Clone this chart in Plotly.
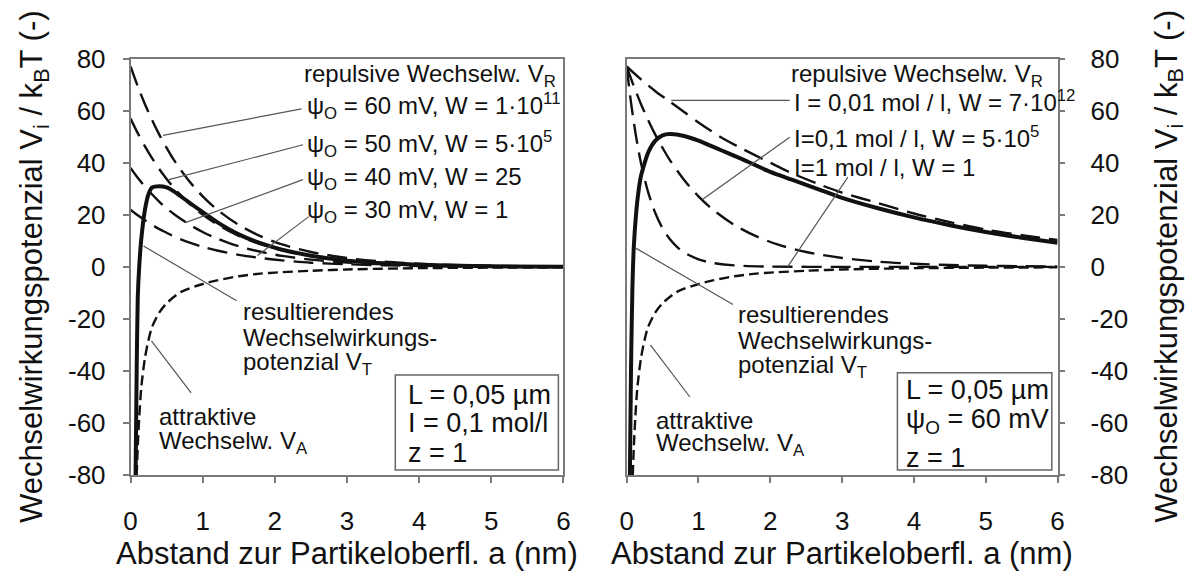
import plotly.graph_objects as go

# ---------------- data ----------------
# Left panel: I = 0.1 mol/l, repulsive curves for several surface potentials
xa_r = [0, 0.1, 0.2, 0.3, 0.4, 0.5, 0.6, 0.8, 1.0, 1.2, 1.5, 1.8, 2.1, 2.5, 3.0, 3.5, 4.0, 4.5, 5.0, 5.5, 6.0]
vr_60 = [77, 69.4, 62.5, 56.3, 50.7, 45.7, 41.1, 33.4, 27.1, 22.0, 16.1, 11.8, 8.6, 5.7, 3.4, 2.0, 1.2, 0.7, 0.4, 0.25, 0.15]
vr_50 = [57, 51.4, 46.3, 41.7, 37.5, 33.8, 30.4, 24.7, 20.1, 16.3, 11.9, 8.7, 6.4, 4.2, 2.5, 1.5, 0.9, 0.5, 0.3, 0.2, 0.1]
vr_40 = [38, 34.2, 30.8, 27.8, 25.0, 22.5, 20.3, 16.5, 13.4, 10.9, 7.9, 5.8, 4.2, 2.8, 1.7, 1.0, 0.6, 0.35, 0.2, 0.12, 0.07]
vr_30 = [22, 19.8, 17.9, 16.1, 14.5, 13.1, 11.7, 9.5, 7.7, 6.3, 4.6, 3.4, 2.5, 1.6, 1.0, 0.6, 0.34, 0.2, 0.12, 0.07, 0.04]

# attractive interaction (same in both panels)
x_att = [0.085, 0.1, 0.12, 0.15, 0.2, 0.25, 0.3, 0.4, 0.5, 0.7, 1.0, 1.2, 1.5, 1.8, 2.0, 2.5, 3.0, 4.0, 5.0, 6.0]
v_att = [-80, -69, -58, -46, -35, -28, -23, -17.5, -14, -9.6, -6.6, -5.2, -3.6, -2.6, -2.2, -1.5, -1.0, -0.5, -0.3, -0.2]

# resulting potential, left panel
x_tot_l = [0.07, 0.085, 0.1, 0.12, 0.15, 0.2, 0.25, 0.3, 0.4, 0.5, 0.6, 0.8, 1.0, 1.2, 1.5, 1.8, 2.1, 2.5, 3.0, 3.5, 4.0, 5.0, 6.0]
v_tot_l = [-80, -40, -12, 0, 11, 22, 28, 30.5, 31, 30.5, 29, 25, 21, 17.2, 12.5, 9.1, 6.6, 4.3, 2.4, 1.4, 0.8, 0.2, 0.0]

# Right panel: psi = 60 mV, repulsive curves for several ionic strengths
xb_r = [0, 0.2, 0.4, 0.6, 0.8, 1.0, 1.3, 1.6, 2.0, 2.3, 2.7, 3.0, 3.5, 4.0, 4.5, 5.0, 5.5, 6.0]
vr_i001 = [77, 72, 67.5, 63.5, 59.5, 55.5, 50, 45.5, 40, 36, 31.5, 28.5, 24.5, 20.5, 17.2, 14.3, 12.2, 10.3]
xb_r1 = [0, 0.05, 0.1, 0.15, 0.2, 0.3, 0.4, 0.5, 0.6, 0.7, 0.8, 1.0, 1.2, 1.5, 2.0, 3.0, 4.0, 5.0, 6.0]
vr_i1 = [77, 65.3, 55.5, 47, 39.8, 28.6, 20.6, 14.8, 10.7, 7.7, 5.5, 2.9, 1.5, 0.55, 0.1, 0, 0, 0, 0]
vr_i01 = vr_60

x_tot_r = [0.045, 0.06, 0.08, 0.1, 0.13, 0.16, 0.2, 0.3, 0.4, 0.5, 0.6, 0.8, 1.0, 1.3, 1.6, 2.0, 2.3, 2.7, 3.0, 3.5, 4.0, 4.5, 5.0, 5.5, 6.0]
v_tot_r = [-80, -40, -8, 8, 20, 28, 35, 44, 48.5, 50.5, 51, 50.3, 48.5, 45, 41.5, 36.5, 33.5, 29.5, 26.5, 22.5, 19, 16, 13.4, 11.2, 9.3]

x_ticks = [0, 1, 2, 3, 4, 5, 6]
y_ticks = [-80, -60, -40, -20, 0, 20, 40, 60, 80]
y_tick_text = ["-80", "-60", "-40", "-20", "0", "20", "40", "60", "80"]

# ---------------- style ----------------
FONT = "Liberation Sans, Arial, sans-serif"
BLACK = "#111111"
AXC = "#7a7a7a"
REP_DASH = "20px,9px"
ATT_DASH = "10px,5px"

fig = go.Figure()

def rep(x, y, xa, ya):
    fig.add_trace(go.Scatter(x=x, y=y, mode="lines", xaxis=xa, yaxis=ya,
                             line=dict(color=BLACK, width=2.4, dash=REP_DASH, shape="spline", smoothing=0.8),
                             showlegend=False, hoverinfo="skip"))

def att(xa, ya):
    fig.add_trace(go.Scatter(x=x_att, y=v_att, mode="lines", xaxis=xa, yaxis=ya,
                             line=dict(color=BLACK, width=2.4, dash=ATT_DASH, shape="spline", smoothing=0.8),
                             showlegend=False, hoverinfo="skip"))

def tot(x, y, xa, ya):
    fig.add_trace(go.Scatter(x=x, y=y, mode="lines", xaxis=xa, yaxis=ya,
                             line=dict(color=BLACK, width=4, shape="spline", smoothing=0.6),
                             showlegend=False, hoverinfo="skip"))

for v in (vr_60, vr_50, vr_40, vr_30):
    rep(xa_r, v, "x", "y")
att("x", "y")
tot(x_tot_l, v_tot_l, "x", "y")

rep(xb_r, vr_i001, "x2", "y2")
rep(xa_r, vr_i01, "x2", "y2")
rep(xb_r1, vr_i1, "x2", "y2")
att("x2", "y2")
tot(x_tot_r, v_tot_r, "x2", "y2")

W, H = 1197, 584
L_DOM = [125 / W, 563 / W]
R_DOM = [627 / W, 1063 / W]
Y_DOM = [(H - 485) / H, (H - 46) / H]

axis_common = dict(showline=True, linecolor=AXC, linewidth=1.5, mirror=True,
                   ticks="outside", ticklen=6, tickwidth=1.5, tickcolor=AXC,
                   showgrid=False, zeroline=False,
                   tickfont=dict(family=FONT, size=26, color=BLACK))

fig.update_layout(
    width=W, height=H,
    margin=dict(l=0, r=0, t=0, b=0),
    paper_bgcolor="white", plot_bgcolor="white",
    xaxis=dict(domain=L_DOM, range=[0, 6], tickvals=x_ticks, anchor="y", ticklabelstandoff=16, **axis_common),
    yaxis=dict(domain=Y_DOM, range=[-80, 80], tickvals=y_ticks, ticktext=y_tick_text, anchor="x",
               ticklabelstandoff=12, **axis_common),
    xaxis2=dict(domain=R_DOM, range=[0, 6], tickvals=x_ticks, anchor="y2", ticklabelstandoff=16, **axis_common),
    yaxis2=dict(domain=Y_DOM, range=[-80, 80], tickvals=y_ticks, ticktext=y_tick_text, anchor="x2",
                side="right", ticklabelstandoff=20, **axis_common),
)

ann = []
def txt(x, y, s, xr, yr, xanchor="left", size=24):
    ann.append(dict(x=x, y=y, xref=xr, yref=yr, text=s, showarrow=False,
                    xanchor=xanchor, yanchor="middle",
                    font=dict(family=FONT, size=size, color=BLACK)))

shapes = []
def ptr(x0, y0, x1, y1, xr, yr):
    shapes.append(dict(type="line", x0=x0, y0=y0, x1=x1, y1=y1, xref=xr, yref=yr,
                       line=dict(color="#555555", width=1.2)))

# left panel labels
txt(5.92, 73.5, "repulsive Wechselw. V<sub>R</sub>", "x", "y", xanchor="right")
txt(2.42, 61.8, "ψ<sub>O</sub> = 60 mV, W = 1·10<sup>11</sup>", "x", "y")
txt(2.42, 47.3, "ψ<sub>O</sub> = 50 mV, W = 5·10<sup>5</sup>", "x", "y")
txt(2.42, 33.8, "ψ<sub>O</sub> = 40 mV, W = 25", "x", "y")
txt(2.42, 21.1, "ψ<sub>O</sub> = 30 mV, W = 1", "x", "y")
ptr(2.37, 60.7, 0.45, 50.5, "x", "y")
ptr(2.39, 46.9, 0.53, 33.5, "x", "y")
ptr(2.39, 33.5, 0.76, 17, "x", "y")
ptr(2.47, 19.3, 1.76, 4.4, "x", "y")
txt(1.53, -17.1, "resultierendes", "x", "y")
txt(1.53, -27.3, "Wechselwirkungs-", "x", "y")
txt(1.53, -37.1, "potenzial V<sub>T</sub>", "x", "y")
ptr(0.18, 8, 1.47, -13, "x", "y")
txt(0.37, -57.5, "attraktive", "x", "y")
txt(0.37, -67.3, "Wechselw. V<sub>A</sub>", "x", "y")
ptr(0.29, -28.4, 0.84, -48.4, "x", "y")
shapes.append(dict(type="rect", x0=3.67, x1=5.93, y0=-78, y1=-41.5, xref="x", yref="y",
                   line=dict(color="#666666", width=1.5), fillcolor="white"))
txt(3.82, -49.1, "L = 0,05 µm", "x", "y", size=27)
txt(3.82, -60.0, "I = 0,1 mol/l", "x", "y", size=27)
txt(3.82, -71.6, "z = 1", "x", "y", size=27)

# right panel labels
txt(5.82, 73.5, "repulsive Wechselw. V<sub>R</sub>", "x2", "y2", xanchor="right")
txt(2.3, 63.6, "I = 0,01 mol / l, W = 7·10<sup>12</sup>", "x2", "y2")
txt(2.3, 49.8, "I=0,1 mol / l, W = 5·10<sup>5</sup>", "x2", "y2")
txt(2.3, 38.2, "I=1 mol / l, W = 1", "x2", "y2")
ptr(0.62, 64, 2.27, 64, "x2", "y2")
ptr(2.27, 49.8, 1.06, 26, "x2", "y2")
ptr(3.08, 34.5, 2.24, 0, "x2", "y2")
txt(1.52, -18.2, "resultierendes", "x2", "y2")
txt(1.52, -28.4, "Wechselwirkungs-", "x2", "y2")
txt(1.52, -38.2, "potenzial V<sub>T</sub>", "x2", "y2")
ptr(0.12, 7.3, 1.48, -14.5, "x2", "y2")
txt(0.38, -58.9, "attraktive", "x2", "y2")
txt(0.38, -68.4, "Wechselw. V<sub>A</sub>", "x2", "y2")
ptr(0.33, -30, 0.88, -50, "x2", "y2")
shapes.append(dict(type="rect", x0=3.77, x1=5.92, y0=-78, y1=-40.7, xref="x2", yref="y2",
                   line=dict(color="#666666", width=1.5), fillcolor="white"))
txt(3.86, -47.3, "L = 0,05 µm", "x2", "y2", size=27)
txt(3.86, -59.3, "ψ<sub>O</sub> = 60 mV", "x2", "y2", size=27)
txt(3.86, -73.5, "z = 1", "x2", "y2", size=27)

# axis titles
YT = "Wechselwirkungspotenzial V<sub>i</sub> / k<sub>B</sub>T (-)"
XT = "Abstand zur Partikeloberfl. a (nm)"
for xc in (28, 1176):
    ann.append(dict(x=xc / W, y=1 - 265 / H, xref="paper", yref="paper", text=YT, textangle=-90,
                    showarrow=False, xanchor="center", yanchor="middle",
                    font=dict(family=FONT, size=31, color=BLACK)))
for xc in (344, 845):
    ann.append(dict(x=xc / W, y=1 - 568 / H, xref="paper", yref="paper", text=XT,
                    showarrow=False, xanchor="center", yanchor="middle",
                    font=dict(family=FONT, size=31, color=BLACK)))

fig.update_layout(annotations=ann, shapes=shapes)
fig.write_html("out.html")
